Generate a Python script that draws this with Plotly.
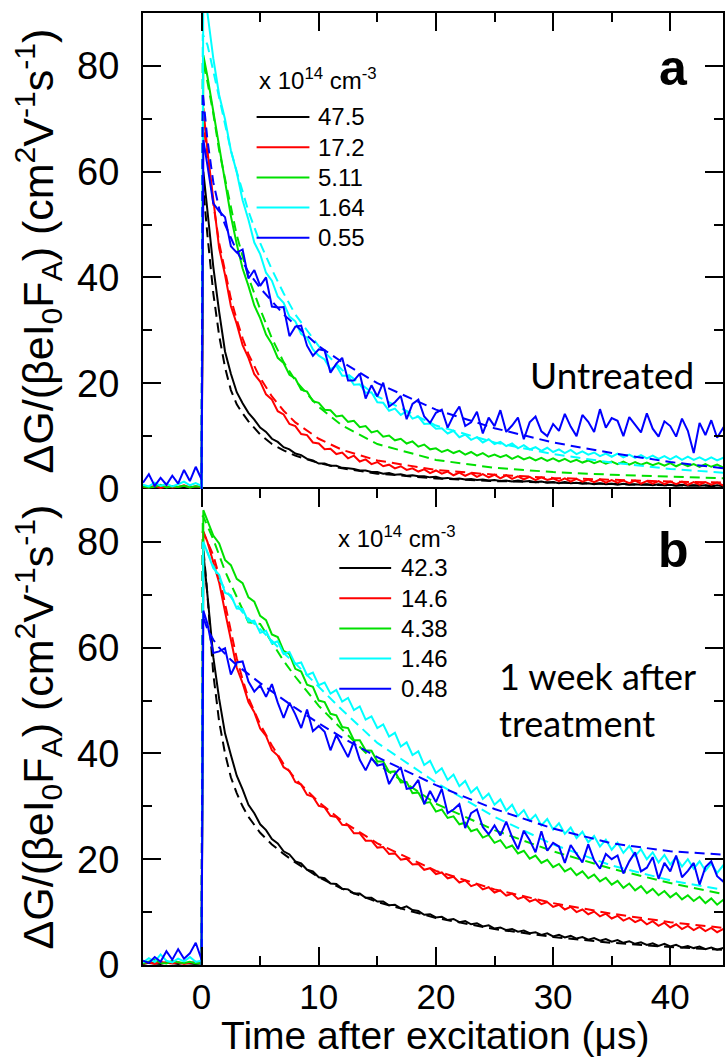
import plotly.graph_objects as go

# ---------------- data ----------------
TIME = [-5.0, -4.5, -4.0, -3.5, -3.0, -2.5, -2.0, -1.5, -1.0, -0.5, 0.0, 0.15] + [0.5 * k for k in range(1, 91)]
T_FIT = [0, 0.1, 0.5, 1, 1.5, 2, 2.5, 3, 3.5, 4, 5, 6, 7, 8, 10, 12, 15, 20, 25, 30, 35, 40, 45]

LABELS_A = ["47.5", "17.2", "5.11", "1.64", "0.55"]
LABELS_B = ["42.3", "14.6", "4.38", "1.46", "0.48"]
COLORS = ["#000000", "#ff0000", "#00e000", "#00ffff", "#0000ff"]

# ---- panel a (untreated) ----
A_BLACK = [0.3, 0.2, 0.4, 0.3, 0.2, 0.5, 0.3, 0.2, 0.4, 0.3, 0.2, 60,
           53, 42, 33.5, 26, 21.8, 18.3, 16.2, 14.4, 13.1, 11.6, 10.8, 9.5, 8.9, 7.9, 7.5, 6.7, 6.4, 5.7, 5.4, 4.8,
           4.8, 4.4, 4.4, 4.0, 3.9, 3.8, 3.5, 3.5, 3.2, 3.2,
           2.9, 3.0, 2.7, 2.8, 2.5, 2.6, 2.4, 2.4, 2.2, 2.3,
           2.0, 2.1, 1.9, 2.0, 1.8, 1.9, 1.7, 1.8, 1.6, 1.7,
           1.5, 1.6, 1.4, 1.6, 1.4, 1.5, 1.3, 1.4, 1.2, 1.3,
           1.1, 1.3, 1.1, 1.2, 1.0, 1.1, 0.9, 1.1, 0.9, 1.0,
           0.8, 1.0, 0.8, 0.9, 0.8, 0.9, 0.7, 0.9, 0.7, 0.8,
           0.6, 0.8, 0.6, 0.7, 0.6, 0.7, 0.5, 0.7, 0.5, 0.6]
A_RED = [0.4, 0.3, 0.6, 0.2, 0.5, 0.3, 0.4, 0.7, 0.3, 0.5, 0.3, 72,
         64, 54.5, 45.5, 40.5, 34.6, 31.2, 27.2, 24.8, 21.7, 20.3, 17.9, 16.9, 14.7, 14.1, 12.3, 11.9, 10.4, 10.2, 8.8, 8.6,
         7.5, 7.6, 6.6, 6.9, 5.8, 6.3, 5.2, 5.6, 4.7, 5.1,
         4.3, 4.6, 3.9, 4.3, 3.6, 3.9, 3.3, 3.7, 3.0, 3.5,
         2.9, 3.3, 2.6, 3.1, 2.5, 3.0, 2.3, 2.8, 2.2, 2.7,
         2.0, 2.6, 1.9, 2.4, 1.8, 2.3, 1.7, 2.2, 1.7, 2.0,
         1.5, 2.0, 1.4, 1.9, 1.4, 1.8, 1.3, 1.8, 1.2, 1.7,
         1.2, 1.6, 1.1, 1.6, 1.0, 1.5, 1.0, 1.5, 0.9, 1.4,
         0.9, 1.4, 0.8, 1.3, 0.8, 1.3, 0.8, 1.2, 0.7, 1.2]
A_GREEN = [0.5, 0.3, 0.4, 0.8, 0.3, 0.5, 0.4, 0.6, 0.3, 0.5, 0.4, 82,
           78, 71.3, 64.6, 58.4, 51.6, 46.3, 41.7, 38.4, 34.7, 32.3, 29.2, 27.4, 24.8, 23.8, 21.6, 20.9, 18.8, 18.4, 16.6, 16.3,
           15.0, 14.9, 13.7, 13.9, 12.7, 12.9, 11.7, 11.9, 10.7, 11.0,
           9.9, 10.1, 9.2, 9.5, 8.6, 9.0, 8.0, 8.4, 7.5, 7.7,
           7.0, 7.4, 6.8, 7.2, 6.5, 7.0, 6.3, 6.8, 6.1, 6.5,
           6.0, 6.4, 5.7, 6.2, 5.6, 6.0, 5.4, 5.9, 5.3, 5.8,
           5.2, 5.7, 5.1, 5.5, 5.0, 5.4, 4.9, 5.3, 4.8, 5.2,
           4.7, 5.2, 4.6, 5.1, 4.6, 5.0, 4.5, 4.9, 4.4, 4.9,
           4.3, 4.8, 4.3, 4.7, 4.2, 4.7, 4.2, 4.6, 4.1, 4.5]
A_CYAN = [0.8, 0.5, 1.2, 0.6, 1.0, 0.5, 0.9, 1.4, 0.7, 1.1, 0.6, 98,
          90, 81.4, 74.5, 69.9, 64.0, 59.9, 54.6, 50.9, 46.6, 44.4, 40.9, 39.4, 36.4, 35.2, 32.6, 31.7, 29.3, 28.6, 26.4, 25.2,
          24.5, 22.6, 23.3, 21.4, 21.4, 19.7, 19.8, 18.2, 18.3, 16.4,
          16.3, 14.8, 15.2, 14.0, 14.7, 13.3, 13.7, 12.3, 12.4, 11.4,
          11.5, 10.5, 11.0, 9.8, 10.3, 9.3, 9.8, 8.8, 9.4, 8.5,
          8.9, 8.1, 8.6, 7.7, 8.3, 7.5, 7.9, 7.2, 7.8, 7.0,
          7.5, 6.8, 7.4, 6.6, 7.1, 6.5, 6.9, 6.2, 6.7, 6.1,
          6.7, 6.0, 6.5, 5.9, 6.4, 5.8, 6.3, 5.7, 6.2, 5.6,
          6.2, 5.5, 6.1, 5.5, 6.0, 5.4, 6.0, 5.4, 5.9, 5.3]
A_BLUE = [1.2, 2.8, 0.6, 2.1, 0.8, 2.5, 1.0, 3.6, 1.5, 4.2, 1.8, 66,
          61.2, 54, 52.5, 51.4, 45.9, 44.7, 45.3, 39.8, 41.4, 38.4, 40, 34.5, 34.3, 34.4, 28.9, 30.7, 30.9, 27.1, 25.2, 26.4,
          26.2, 22.0, 23.7, 24.8, 20.5, 20.5, 21.8, 17.1, 19.6, 17.5,
          20.1, 15.6, 16.4, 17.6, 13.2, 16.1, 16.9, 13.7, 12.5, 14.4,
          15.0, 11.6, 13.9, 15.6, 11.9, 12.6, 14.6, 10.5, 13.5, 11.9,
          14.9, 10.8, 12.0, 13.5, 9.4, 12.6, 13.7, 10.9, 10.0, 12.3,
          11.0, 14.2, 11.8, 10.0, 14.0, 12.7, 10.8, 15.1, 11.6, 13.4,
          12.9, 10.0, 13.6, 12.1, 10.7, 14.3, 11.4, 9.9, 12.8, 11.9,
          9.9, 13.3, 11.0, 6.8, 12.5, 10.2, 13.0, 9.7, 11.5, 10.4]

FIT_A_BLACK = [0, 58, 48, 37, 29, 23, 18.7, 16.0, 14.3, 12.8, 10.3, 8.5, 7.3, 6.3, 4.9, 3.9, 2.9, 2.0, 1.5, 1.2, 0.9, 0.7, 0.6]
FIT_A_RED = [0, 70, 63, 54, 46.5, 41, 36, 32, 28.5, 25.5, 21, 17.5, 14.8, 12.6, 9.5, 7.4, 5.4, 3.6, 2.7, 2.1, 1.7, 1.4, 1.2]
FIT_A_GREEN = [0, 81, 77, 71, 64, 58.5, 53, 48, 44, 40, 34, 28.5, 24, 20.5, 15.5, 12, 8.5, 5.5, 4.0, 3.2, 2.7, 2.3, 2.0]
FIT_A_CYAN = [0, 86, 84, 79, 73.5, 68.5, 64, 60, 56, 52.5, 46.5, 41.5, 37, 33, 27, 22.5, 17.5, 12, 8.8, 6.6, 5.0, 3.8, 3.0]
FIT_A_BLUE = [0, 75, 66, 58, 53, 50, 47.5, 45, 43, 41, 38, 35.5, 33, 31, 27, 24, 20, 15, 11.5, 8.8, 6.8, 5.1, 3.8]

# ---- panel b (1 week after treatment) ----
B_BLACK = [0.2, 0.4, 0.3, 0.2, 0.5, 0.3, 0.2, 0.4, 0.3, 0.2, 0.3, 78,
           70, 58.2, 50.3, 43.8, 39.7, 35.8, 33.2, 30.3, 28.7, 26.6, 25.5, 23.8, 23.0, 21.5, 20.9, 19.6, 19.2, 18.0, 17.7, 16.6,
           16.4, 15.4, 15.3, 14.4, 14.3, 13.5, 13.5, 12.7, 12.7, 12.0,
           12.0, 11.3, 11.4, 10.7, 11.1, 10.4, 10.2, 9.5, 9.6, 9.0,
           9.1, 8.5, 8.7, 8.1, 8.3, 7.7, 7.9, 7.3, 7.5, 6.9,
           7.1, 6.6, 6.8, 6.3, 6.5, 6.0, 6.2, 5.7, 6.0, 5.4,
           5.7, 5.2, 5.5, 5.0, 5.3, 4.8, 5.1, 4.6, 4.9, 4.4,
           4.7, 4.2, 4.5, 4.0, 4.3, 3.8, 4.1, 3.6, 4.0, 3.5,
           3.8, 3.3, 3.6, 3.2, 3.5, 3.0, 3.3, 2.9, 3.2, 2.8]
B_RED = [0.3, 0.5, 0.2, 0.6, 0.4, 0.3, 0.5, 0.2, 0.4, 0.6, 0.3, 82,
         80, 76.2, 72.3, 66.8, 61.8, 56.2, 53.3, 49.7, 47.8, 44.7, 43.3, 40.6, 39.6, 37.4, 36.7, 34.6, 34.1, 32.2, 31.8, 30.1,
         29.8, 28.2, 28.0, 26.5, 26.4, 24.9, 24.9, 23.5, 23.5, 22.2,
         22.3, 21.0, 21.1, 19.9, 20.1, 19.0, 19.1, 18.0, 18.3, 17.2,
         17.5, 16.4, 16.7, 15.6, 16.0, 14.9, 15.3, 14.3, 14.7, 13.7,
         14.1, 13.1, 13.5, 12.5, 12.9, 12.0, 12.4, 11.5, 11.9, 11.0,
         11.4, 10.5, 11.0, 10.0, 10.5, 9.6, 10.1, 9.2, 9.7, 8.8,
         9.3, 8.4, 8.9, 8.1, 8.6, 7.7, 8.3, 7.4, 8.0, 7.1,
         7.7, 6.8, 7.4, 6.6, 7.2, 6.4, 7.0, 6.2, 6.8, 6.1]
B_GREEN = [0.3, 0.6, 1.0, 0.4, 0.3, 0.8, 0.5, 0.4, 0.6, 0.3, 0.4, 86,
           84, 81.2, 79.7, 76.6, 75.6, 73.0, 72.2, 69.5, 68.7, 66.0, 65.2, 62.5, 62.0, 59.4, 58.8, 56.0, 55.5, 53.0, 52.6, 50.0,
           49.7, 47.5, 47.2, 45.0, 44.8, 42.5, 42.5, 40.6, 40.5, 38.5,
           38.5, 36.5, 36.6, 34.5, 34.6, 32.5, 32.6, 30.6, 30.8, 29.0,
           29.4, 27.8, 28.1, 26.6, 26.9, 25.3, 25.7, 24.1, 24.6, 23.1,
           23.6, 22.1, 22.6, 21.1, 21.6, 20.1, 20.7, 19.3, 19.9, 18.5,
           19.1, 17.7, 18.3, 17.0, 17.7, 16.4, 17.1, 15.8, 16.5, 15.2,
           15.9, 14.6, 15.4, 14.1, 14.9, 13.6, 14.4, 13.2, 14.0, 12.8,
           13.6, 12.4, 13.2, 12.1, 12.9, 11.7, 12.6, 11.4, 12.3, 11.1]
B_CYAN = [0.5, 1.3, 0.6, 2.0, 0.8, 0.5, 1.2, 0.7, 1.5, 0.6, 0.8, 80,
          78, 75.0, 73.8, 70.4, 69.9, 67.4, 67.3, 64.9, 65.1, 62.8, 63.2, 60.8, 61.2, 58.8, 59.2, 56.9, 57.2, 54.8, 55.3, 52.9,
          53.4, 51.3, 52.0, 49.8, 50.5, 48.2, 48.9, 46.4, 47.0, 44.8,
          45.5, 43.2, 43.9, 41.3, 42.1, 39.7, 40.4, 37.8, 38.6, 36.3,
          37.2, 35.0, 36.0, 33.8, 34.8, 32.6, 33.6, 31.4, 32.4, 30.3,
          31.3, 29.2, 30.3, 28.2, 29.3, 27.3, 28.4, 26.4, 27.6, 25.6,
          26.8, 24.8, 26.0, 24.0, 25.2, 23.2, 24.4, 22.4, 23.7, 21.8,
          23.1, 21.2, 22.5, 20.6, 21.9, 20.0, 21.3, 19.4, 20.8, 19.0,
          20.4, 18.6, 20.0, 18.2, 19.6, 17.8, 19.2, 17.4, 18.8, 17.0]
B_BLUE = [0.8, 0.4, 1.5, 0.6, 2.6, 1.0, 3.0, 1.2, 2.2, 4.2, 1.0, 67,
          64.5, 59.0, 59.3, 59.9, 54.9, 57.2, 57.4, 53.6, 51.7, 52.9, 50.7, 53.1, 49.6, 46.7, 49.6, 47.4, 44.8, 48.3, 44.2, 45.2,
          44.1, 40.6, 43.5, 41.4, 39.3, 42.3, 38.8, 36.8, 39.1, 37.7,
          38.0, 34.2, 36.1, 37.4, 33.3, 33.5, 35.0, 30.4, 32.9, 30.8,
          33.3, 28.7, 29.4, 30.4, 25.9, 28.7, 29.4, 26.1, 24.7, 26.4,
          24.5, 27.1, 24.2, 21.9, 25.4, 23.6, 21.3, 25.3, 21.6, 23.1,
          22.4, 19.3, 22.7, 21.0, 19.4, 22.8, 19.8, 18.2, 21.0, 20.0,
          20.7, 17.3, 19.6, 21.3, 17.7, 18.4, 20.4, 16.3, 19.3, 17.7,
          20.7, 16.6, 17.8, 19.3, 15.2, 18.5, 19.6, 16.8, 15.8, 18.0]

FIT_B_BLACK = [0, 80, 70, 55, 46, 40, 35.5, 32.5, 30, 28, 25, 22.8, 21, 19.4, 16.6, 14.4, 11.9, 8.9, 6.8, 5.3, 4.2, 3.4, 2.8]
FIT_B_RED = [0, 82, 80, 77.5, 73.5, 68.5, 63, 58, 54, 50.5, 45.5, 41.5, 38, 35.2, 30.8, 27.2, 23, 17.8, 14.3, 11.7, 9.7, 8.1, 6.9]
FIT_B_GREEN = [0, 85, 83, 80.5, 77.5, 74.5, 72, 69.5, 67, 64.8, 64.5, 61, 57.5, 54.5, 49, 44.5, 38, 30.5, 25.5, 21.5, 18.2, 15.5, 13.2]
FIT_B_CYAN = [0, 80, 78, 75.5, 73, 71, 69.5, 68, 66.7, 65.5, 63.5, 61.3, 59, 57, 52.5, 48.2, 42, 34.5, 28, 22.8, 18.8, 16, 14]
FIT_B_BLUE = [0, 66, 63.5, 61.5, 60, 58.8, 57.7, 56.7, 55.8, 55, 53.3, 51.7, 50.1, 48.6, 45.7, 43, 39.3, 34, 29.5, 25.8, 23, 21.5, 20.8]

DATA_A = [A_BLACK, A_RED, A_GREEN, A_CYAN, A_BLUE]
FITS_A = [FIT_A_BLACK, FIT_A_RED, FIT_A_GREEN, FIT_A_CYAN, FIT_A_BLUE]
DATA_B = [B_BLACK, B_RED, B_GREEN, B_CYAN, B_BLUE]
FITS_B = [FIT_B_BLACK, FIT_B_RED, FIT_B_GREEN, FIT_B_CYAN, FIT_B_BLUE]

# ---------------- figure ----------------
W, H = 725, 1059
ML, MR, MT, MB = 143, 0, 13, 94
PW, PH = W - ML - MR, H - MT - MB


def px_x(p):
    return (p - ML) / PW


def px_y(p):
    return (H - MB - p) / PH


ARIAL = "Liberation Sans, Arial, sans-serif"
CALIBRI = "Lato, Carlito, Calibri, sans-serif"
DASH = "10px,6px"

fig = go.Figure()

for i in range(5):
    fig.add_trace(go.Scatter(x=TIME, y=DATA_A[i], mode="lines", name=LABELS_A[i], showlegend=False,
                             line=dict(color=COLORS[i], width=2), xaxis="x2", yaxis="y2"))
    fig.add_trace(go.Scatter(x=T_FIT, y=FITS_A[i], mode="lines", showlegend=False,
                             line=dict(color=COLORS[i], width=2, dash=DASH), xaxis="x2", yaxis="y2"))
for i in range(5):
    fig.add_trace(go.Scatter(x=TIME, y=DATA_B[i], mode="lines", name=LABELS_B[i], showlegend=False,
                             line=dict(color=COLORS[i], width=2), xaxis="x", yaxis="y"))
    fig.add_trace(go.Scatter(x=T_FIT, y=FITS_B[i], mode="lines", showlegend=False,
                             line=dict(color=COLORS[i], width=2, dash=DASH), xaxis="x", yaxis="y"))

common_x = dict(range=[-5, 44.5], dtick=10, tick0=0, ticks="inside", ticklen=18, tickwidth=2,
                linecolor="black", linewidth=2, showgrid=False, zeroline=False,
                minor=dict(dtick=5, tick0=0, ticks="inside", ticklen=9, tickwidth=2, tickcolor="black"),
                tickcolor="black", tickfont=dict(family=ARIAL, size=35, color="black"))
common_y = dict(range=[0, 90], dtick=20, tick0=0, ticks="inside", ticklen=18, tickwidth=2,
                linecolor="black", linewidth=2, showgrid=False, zeroline=False, mirror="ticks",
                minor=dict(dtick=10, tick0=0, ticks="inside", ticklen=9, tickwidth=2, tickcolor="black"),
                tickcolor="black", tickfont=dict(family=ARIAL, size=38, color="black"),
                ticklabelstandoff=14)
YTITLE = "ΔG/(βeI<sub>0</sub>F<sub>A</sub>) (cm<sup>2</sup>V<sup>-1</sup>s<sup>-1</sup>)"

fig.update_layout(
    width=W, height=H,
    margin=dict(l=ML, r=MR, t=MT, b=MB),
    paper_bgcolor="white", plot_bgcolor="white",
    showlegend=False,
    xaxis=dict(common_x, domain=[0, 1], anchor="y", side="bottom", mirror="ticks",
               showticklabels=True, ticklabelstandoff=0),
    yaxis=dict(common_y, domain=[0, 0.5], anchor="x",
               title=dict(text=YTITLE, standoff=10, font=dict(family=ARIAL, size=43, color="black"))),
    xaxis2=dict(common_x, domain=[0, 1], anchor="y2", side="top", mirror=False,
                showticklabels=False, matches="x"),
    yaxis2=dict(common_y, domain=[0.5, 1], anchor="x2",
                title=dict(text=YTITLE, standoff=10, font=dict(family=ARIAL, size=43, color="black"))),
)

# legend drawn as line keys + labels (panel a and panel b)
shapes = []
annotations = []
LEG = [  # (labels, line x0, line x1, text x, first row y, header x, header y)
    (LABELS_A, 257, 310, 317, 117, 257, 79),
    (LABELS_B, 340, 392, 400, 568, 337, 537),
]
for labels, lx0, lx1, tx, ry0, hx, hy in LEG:
    annotations.append(dict(text="x 10<sup>14</sup> cm<sup>-3</sup>", x=px_x(hx), y=px_y(hy),
                            xref="paper", yref="paper", xanchor="left", yanchor="middle",
                            showarrow=False, font=dict(family=ARIAL, size=24, color="black")))
    for i, lab in enumerate(labels):
        ry = ry0 + 30.2 * i
        shapes.append(dict(type="line", xref="paper", yref="paper", x0=px_x(lx0), x1=px_x(lx1),
                           y0=px_y(ry), y1=px_y(ry), line=dict(color=COLORS[i], width=2)))
        annotations.append(dict(text=lab, x=px_x(tx), y=px_y(ry), xref="paper", yref="paper",
                                xanchor="left", yanchor="middle", showarrow=False,
                                font=dict(family=ARIAL, size=24, color="black")))

annotations += [
    dict(text="Time after excitation (μs)", x=px_x(436), y=px_y(1035), xref="paper", yref="paper",
         xanchor="center", yanchor="middle", showarrow=False,
         font=dict(family=ARIAL, size=39, color="black")),
    dict(text="<b>a</b>", x=px_x(692), y=px_y(68), xref="paper", yref="paper", xanchor="right",
         yanchor="middle", showarrow=False, font=dict(family=ARIAL, size=50, color="black")),
    dict(text="<b>b</b>", x=px_x(693), y=px_y(550), xref="paper", yref="paper", xanchor="right",
         yanchor="middle", showarrow=False, font=dict(family=ARIAL, size=50, color="black")),
    dict(text="Untreated", x=px_x(698), y=px_y(374), xref="paper", yref="paper", xanchor="right",
         yanchor="middle", showarrow=False, font=dict(family=CALIBRI, size=37, color="black")),
    dict(text="1 week after<br>treatment", x=px_x(498), y=px_y(699), xref="paper", yref="paper",
         xanchor="left", yanchor="middle", align="left", showarrow=False,
         font=dict(family=CALIBRI, size=36, color="black")),
]
fig.update_layout(shapes=shapes, annotations=annotations)

fig.write_html("out.html")
